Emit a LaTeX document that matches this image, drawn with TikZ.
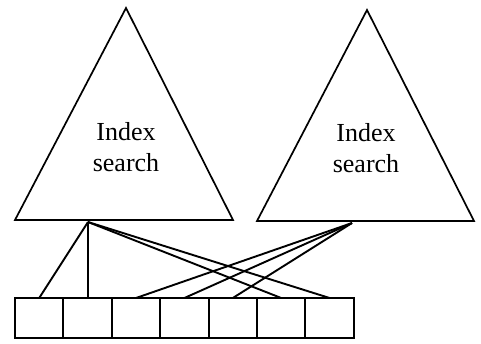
\documentclass[tikz,border=0pt]{standalone}
\usepackage{fontspec}
\setmainfont{Liberation Serif}
\begin{document}
\begin{tikzpicture}[x=1pt,y=-1pt,
  tri/.style={line width=1.7pt,line join=miter},
  lbl/.style={font=\fontsize{26}{31}\selectfont,align=center,inner sep=0pt,anchor=base},
  cell/.style={draw,line width=2pt,minimum width=48.4pt,minimum height=40pt,inner sep=0pt,outer sep=0pt},
  link/.style={line width=1.9pt},
  thinlink/.style={line width=1.1pt}]
\useasboundingbox (0,0) rectangle (481,343);
% left triangle
\coordinate (LA) at (126,8);
\coordinate (LL) at (15,220);
\coordinate (LR) at (233,220);
\coordinate (LP) at (88,222);
\draw[tri] (LA) -- (LL) -- (LR) -- cycle;
\node[lbl] (LT1) at (126,140) {Index};
\node[lbl] (LT2) at (126,171) {search};
% right triangle
\coordinate (RA) at (367,10);
\coordinate (RL) at (257,221);
\coordinate (RR) at (474,221);
\coordinate (RP) at (352,223);
\draw[tri] (RA) -- (RL) -- (RR) -- cycle;
\node[lbl] (RT1) at (366,141) {Index};
\node[lbl] (RT2) at (366,172) {search};
% cells
\foreach \i in {1,...,7}{
  \node[cell] (c\i) at ({15+48.4*(\i-0.5)},318) {};
}
% links
\draw[link] (LP) -- (c1.north);
\draw[thinlink] (LP) -- (LP |- c2.north);
\draw[link] (LP) -- (c6.north);
\draw[link] (LP) -- (c7.north);
\draw[link] (RP) -- (c3.north);
\draw[link] (RP) -- (c4.north);
\draw[link] (RP) -- (c5.north);
\end{tikzpicture}
\end{document}
